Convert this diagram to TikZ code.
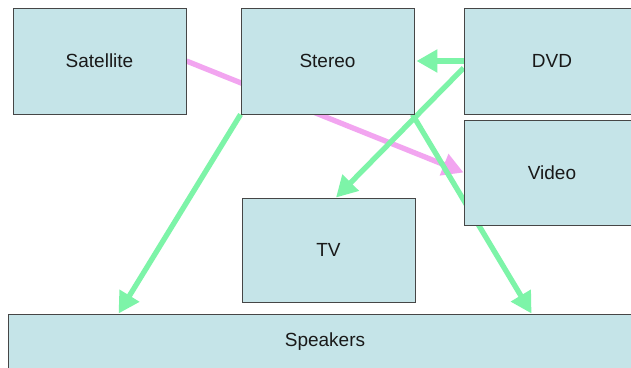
\documentclass[tikz,border=0pt]{standalone}
\usepackage{fontspec}
\setmainfont{Liberation Sans}
\usetikzlibrary{arrows.meta,calc}
\definecolor{boxfill}{RGB}{197,228,232}
\definecolor{boxline}{RGB}{70,70,70}
\definecolor{pinkline}{RGB}{242,165,240}
\definecolor{greenline}{RGB}{125,244,168}
\pgfdeclarelayer{background}
\pgfsetlayers{background,main}
\tikzset{
  box/.style={draw=boxline, line width=0.9pt, fill=boxfill, inner sep=0pt,
    font=\fontsize{19}{22}\selectfont, text=black!90},
  conn/.style={line width=5.3pt, -{Triangle[length=21pt,width=22pt]}},
  greenconn/.style={conn, draw=greenline, fill=greenline},
  pinkconn/.style={conn, draw=pinkline, fill=pinkline}
}
\begin{document}
\begin{tikzpicture}[x=1pt,y=-1pt]
\useasboundingbox (0,0) rectangle (631,367);
\node[box, minimum width=173pt, minimum height=106pt] (satellite) at (99.5,61) {Satellite};
\node[box, minimum width=173pt, minimum height=106pt] (stereo) at (327.5,61) {Stereo};
\node[box, minimum width=176pt, minimum height=106pt] (dvd) at (552,61) {DVD};
\node[box, minimum width=176pt, minimum height=105pt] (video) at (552,172.5) {Video};
\node[box, minimum width=173pt, minimum height=104pt] (tv) at (328.5,250) {TV};
\node[box, minimum width=634pt, minimum height=56pt] (speakers) at (325,342) {Speakers};
\begin{pgfonlayer}{background}
\fill[white] (0,0) rectangle (631,367);
\draw[pinkconn] (satellite.east) -- (video.west);
\draw[greenconn] (dvd.west) -- ([xshift=2pt]stereo.east);
\draw[greenconn] ([yshift=-7pt]dvd.west) -- ([xshift=7.5pt]tv.north);
\draw[greenconn] (stereo.south west) -- ([xshift=111pt]speakers.north west);
\draw[greenconn] ([xshift=-2pt]stereo.south east) -- ([xshift=524pt]speakers.north west);
\end{pgfonlayer}
\end{tikzpicture}
\end{document}
